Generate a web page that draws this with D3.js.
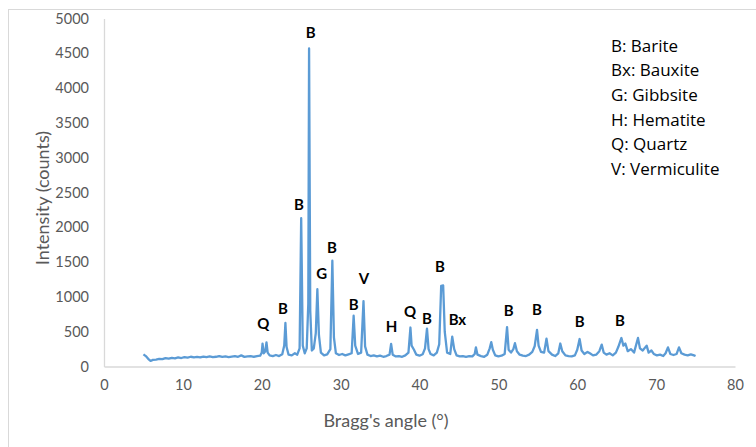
<!DOCTYPE html>
<html>
<head>
<meta charset="utf-8">
<script src="https://d3js.org/d3.v7.min.js"></script>
<style>
  body { margin: 0; background: #fff; }
  text { font-family: Lato, "Open Sans", sans-serif; }
</style>
</head>
<body>
<div id="chart"></div>
<script>
// diffraction pattern
const angles = [
  5.0, 5.3, 5.6, 5.9, 6.2, 6.6, 7.0, 7.4, 7.8, 8.2, 8.6, 9.0, 9.4, 9.8, 10.2, 10.6,
  11.0, 11.4, 11.8, 12.2, 12.6, 13.0, 13.4, 13.8, 14.2, 14.6, 15.0, 15.4, 15.8, 16.2,
  16.6, 17.0, 17.4, 17.8, 18.2, 18.6, 19.0, 19.4, 19.8, 20.0, 20.1, 20.25, 20.45, 20.6,
  20.75, 21.0, 21.4, 21.8, 22.2, 22.6, 22.85, 23.0, 23.15, 23.4, 23.8, 24.2, 24.5, 24.8,
  25.0, 25.2, 25.45, 25.7, 25.9, 26.0, 26.15, 26.35, 26.6, 26.85, 27.05, 27.25, 27.5,
  27.9, 28.3, 28.7, 28.95, 29.15, 29.4, 29.8, 30.2, 30.6, 31.0, 31.4, 31.65, 31.85,
  32.2, 32.6, 32.9, 33.1, 33.4, 33.8, 34.2, 34.6, 35.0, 35.4, 35.8, 36.2, 36.4, 36.6,
  37.0, 37.4, 37.8, 38.2, 38.6, 38.85, 39.0, 39.3, 39.6, 40.0, 40.4, 40.7, 40.95, 41.15,
  41.4, 41.8, 42.2, 42.5, 42.75, 43.0, 43.2, 43.5, 43.9, 44.15, 44.4, 44.7, 45.1, 45.5,
  45.9, 46.3, 46.7, 47.0, 47.15, 47.35, 47.8, 48.2, 48.6, 48.9, 49.1, 49.3, 49.6, 50.0,
  50.4, 50.8, 51.1, 51.3, 51.6, 51.9, 52.1, 52.35, 52.7, 53.1, 53.5, 53.9, 54.3, 54.6,
  54.9, 55.1, 55.4, 55.8, 56.1, 56.35, 56.8, 57.2, 57.6, 57.85, 58.1, 58.5, 58.9, 59.3,
  59.7, 60.0, 60.3, 60.55, 60.9, 61.3, 61.6, 62.0, 62.4, 62.8, 63.1, 63.35, 63.7, 64.1,
  64.5, 64.9, 65.2, 65.6, 65.85, 66.1, 66.4, 66.8, 67.2, 67.7, 67.95, 68.3, 68.8, 69.05,
  69.4, 69.7, 70.1, 70.5, 70.9, 71.2, 71.5, 71.8, 72.2, 72.6, 72.9, 73.2, 73.6, 74.0,
  74.4, 74.8, 75.0
];
const counts = [
  175, 150, 110, 80, 95, 100, 110, 105, 120, 112, 125, 118, 130, 122, 135, 128,
  140, 132, 138, 130, 142, 135, 145, 136, 140, 150, 138, 145, 135, 142,
  150, 140, 160, 138, 145, 150, 140, 148, 155, 200, 330, 190, 220, 345,
  200, 160, 150, 165, 150, 175, 300, 625, 280, 170, 160, 190, 170, 260,
  2130, 300, 190, 260, 900, 4570, 800, 230, 260, 480, 1110, 450, 200,
  160, 175, 250, 1520, 420, 190, 165, 180, 160, 175, 190, 730, 300,
  180, 200, 940, 290, 170, 150, 160, 145, 155, 140, 150, 170, 325, 170,
  145, 150, 140, 160, 200, 560, 300, 240, 170, 155, 175, 260, 545, 250,
  180, 160, 200, 320, 1160, 1165, 500, 200, 180, 430, 250, 160, 145, 150,
  140, 150, 145, 180, 275, 170, 150, 140, 170, 260, 350, 240, 160, 145,
  155, 180, 565, 240, 200, 250, 335, 220, 170, 155, 150, 170, 210, 290,
  525, 300, 210, 200, 400, 220, 170, 150, 190, 330, 220, 160, 150, 145,
  160, 240, 395, 230, 180, 210, 190, 160, 170, 220, 315, 200, 170, 190,
  160, 200, 280, 410, 300, 330, 220, 250, 200, 410, 260, 230, 300, 200,
  230, 180, 160, 170, 150, 190, 275, 180, 165, 180, 275, 190, 170, 160,
  175, 160, 150
];

// peak annotations (angle, intensity where the letter sits)
const peakLabels = ["Q", "B", "B", "B", "G", "B", "B", "V", "H", "Q", "B", "B", "Bx", "B", "B", "B", "B"];
const peakAngles = [20.2, 22.7, 24.7, 26.2, 27.6, 28.9, 31.65, 32.95, 36.45, 38.8, 40.95, 42.6, 44.8, 51.3, 54.9, 60.3, 65.4];
const peakHeights = [622, 843, 2338, 4803, 1346, 1724, 895, 1269, 575, 795, 700, 1437, 685, 812, 826, 651, 671];

const legendItems = ["B: Barite", "Bx: Bauxite", "G: Gibbsite", "H: Hematite", "Q: Quartz", "V: Vermiculite"];

const xTicks = [0, 10, 20, 30, 40, 50, 60, 70, 80];
const yTicks = [0, 500, 1000, 1500, 2000, 2500, 3000, 3500, 4000, 4500, 5000];

const W = 756, H = 447;
const svg = d3.select("#chart").append("svg")
    .attr("width", W)
    .attr("height", H);

// outer chart frame
svg.append("rect")
    .attr("x", 8.5).attr("y", 9.5)
    .attr("width", W + 20).attr("height", H + 20)
    .attr("fill", "none")
    .attr("stroke", "#d9d9d9");

let x = d3.scaleLinear().domain([0, 80]).range([104, 735]);
let y = d3.scaleLinear().domain([0, 5000]).range([366.5, 18.5]);

// axes
let xAxis = d3.axisBottom(x).tickValues(xTicks).tickSize(0).tickPadding(13);
let yAxis = d3.axisLeft(y).tickValues(yTicks).tickSize(0).tickPadding(15)
    .tickFormat(d3.format("d"));

let gx = svg.append("g")
    .attr("transform", "translate(0," + y(0) + ")")
    .call(xAxis);
let gy = svg.append("g")
    .attr("transform", "translate(" + x(0) + ",0)")
    .call(yAxis);

[gx, gy].forEach(function(g) {
    g.select(".domain").attr("stroke", "#d9d9d9").attr("stroke-width", 1.3);
    g.selectAll("text")
        .attr("fill", "#595959")
        .style("font-size", "14.5px")
        .style("font-family", "Lato, sans-serif");
});

svg.append("text")
    .attr("x", 386).attr("y", 427)
    .attr("text-anchor", "middle")
    .attr("fill", "#595959")
    .style("font-size", "18px")
    .text("Bragg's angle (°)");

svg.append("text")
    .attr("transform", "translate(49,198) rotate(-90)")
    .attr("text-anchor", "middle")
    .attr("fill", "#595959")
    .style("font-size", "18px")
    .text("Intensity (counts)");

// pattern line
let line = d3.line()
    .x(function(d, i) { return x(angles[i]); })
    .y(function(d) { return y(d); });

svg.append("path")
    .datum(counts)
    .attr("d", line)
    .attr("fill", "none")
    .attr("stroke", "#5b9bd5")
    .attr("stroke-width", 2.3)
    .attr("stroke-linejoin", "round");

// peak letters
svg.selectAll(".peak")
    .data(peakLabels)
    .enter()
    .append("text")
    .attr("class", "peak")
    .attr("x", function(d, i) { return x(peakAngles[i]); })
    .attr("y", function(d, i) { return y(peakHeights[i]); })
    .attr("text-anchor", "middle")
    .attr("dominant-baseline", "central")
    .attr("fill", "#000")
    .style("font-size", "15px")
    .style("font-weight", "bold")
    .text(function(d) { return d; });

// legend text
svg.selectAll(".leg")
    .data(legendItems)
    .enter()
    .append("text")
    .attr("class", "leg")
    .attr("x", 611)
    .attr("y", function(d, i) { return 45 + i * 24.7; })
    .attr("dominant-baseline", "central")
    .attr("fill", "#000")
    .style("font-size", "17px")
    .style("font-family", "'Open Sans', sans-serif")
    .text(function(d) { return d; });
</script>
</body>
</html>
